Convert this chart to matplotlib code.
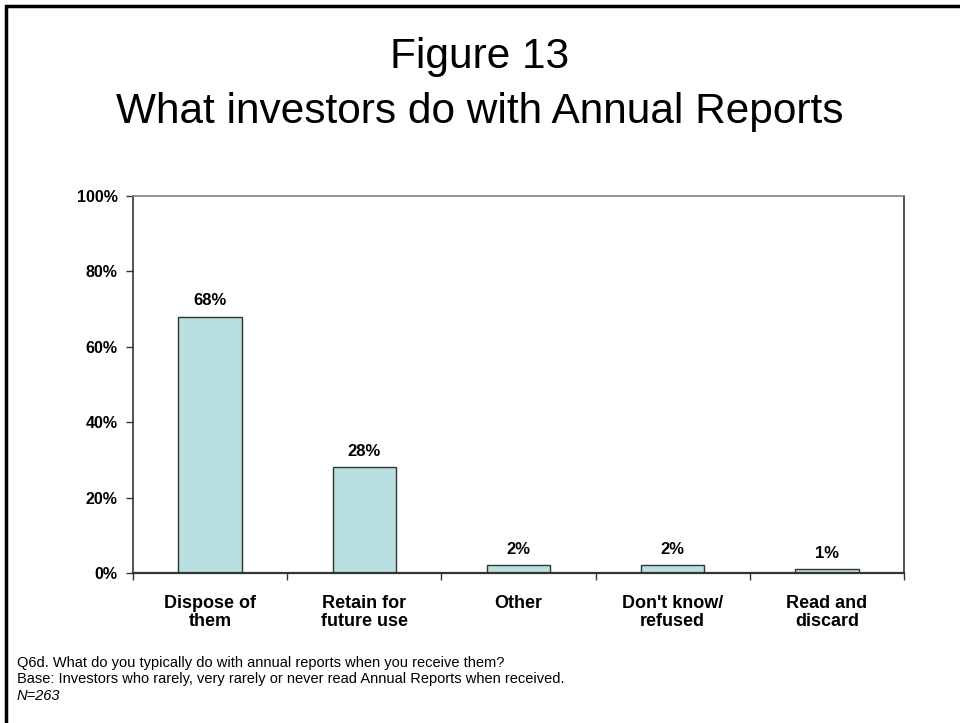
import matplotlib
matplotlib.use("Agg")
import matplotlib.pyplot as plt
from matplotlib.patches import Rectangle

plt.rcParams['font.family'] = ['Liberation Sans', 'DejaVu Sans']

categories = ["Dispose of\nthem", "Retain for\nfuture use", "Other", "Don't know/\nrefused", "Read and\ndiscard"]
values = [68, 28, 2, 2, 1]
y_ticks = [0, 20, 40, 60, 80, 100]
y_tick_labels = ["0%", "20%", "40%", "60%", "80%", "100%"]

fig = plt.figure(figsize=(9.6, 7.23), dpi=100)

# outer frame of the slide
fig.patches.append(Rectangle((6 / 960, -0.1), 1.2, 1 - 6 / 723 + 0.1,
                             transform=fig.transFigure, fill=False,
                             edgecolor="black", linewidth=2.5))

fig.text(0.5, 1 - 68 / 723, "Figure 13", ha="center", va="baseline", fontsize=30.5)
fig.text(0.5, 1 - 123 / 723, "What investors do with Annual Reports",
         ha="center", va="baseline", fontsize=30.5)

ax = fig.add_axes([133 / 960, 1 - 573 / 723, (904 - 133) / 960, (573 - 196) / 723])
x = list(range(len(categories)))
ax.bar(x, values, width=0.41, color="#B9DFE1", edgecolor="#333333", linewidth=1.0)
for xi, v in zip(x, values):
    ax.text(xi, v + 2.2, f"{v}%", ha="center", va="bottom", fontsize=12, fontweight="bold")

ax.set_xlim(-0.5, len(categories) - 0.5)
ax.set_ylim(0, 100)
ax.set_yticks(y_ticks)
ax.set_yticklabels(y_tick_labels, fontsize=11.5, fontweight="bold")
ax.set_xticks([i - 0.5 for i in range(len(categories) + 1)], minor=False)
ax.set_xticklabels([])
ax.set_xticks(x, minor=True)
ax.set_xticklabels(categories, minor=True, fontsize=13, fontweight="bold", linespacing=1.05)
ax.tick_params(axis="x", which="minor", length=0, pad=16)
ax.tick_params(axis="x", which="major", direction="out", length=5, width=1, color="#333333")
ax.tick_params(axis="y", direction="out", length=5, width=1, color="#333333", pad=6)

ax.spines["top"].set_color("#808080")
ax.spines["right"].set_color("#333333")
ax.spines["left"].set_color("#333333")
ax.spines["bottom"].set_color("#333333")
ax.spines["bottom"].set_linewidth(1.6)
for s in ("top", "right", "left"):
    ax.spines[s].set_linewidth(1.2)

fig.text(17 / 960, 1 - 663 / 723, "Q6d. What do you typically do with annual reports when you receive them?",
         ha="left", va="center", fontsize=10.5)
fig.text(17 / 960, 1 - 679.5 / 723, "Base: Investors who rarely, very rarely or never read Annual Reports when received.",
         ha="left", va="center", fontsize=10.5)
fig.text(17 / 960, 1 - 696 / 723, "N=263", ha="left", va="center", fontsize=10.5, style="italic")

fig.savefig("out.png", dpi=100)
